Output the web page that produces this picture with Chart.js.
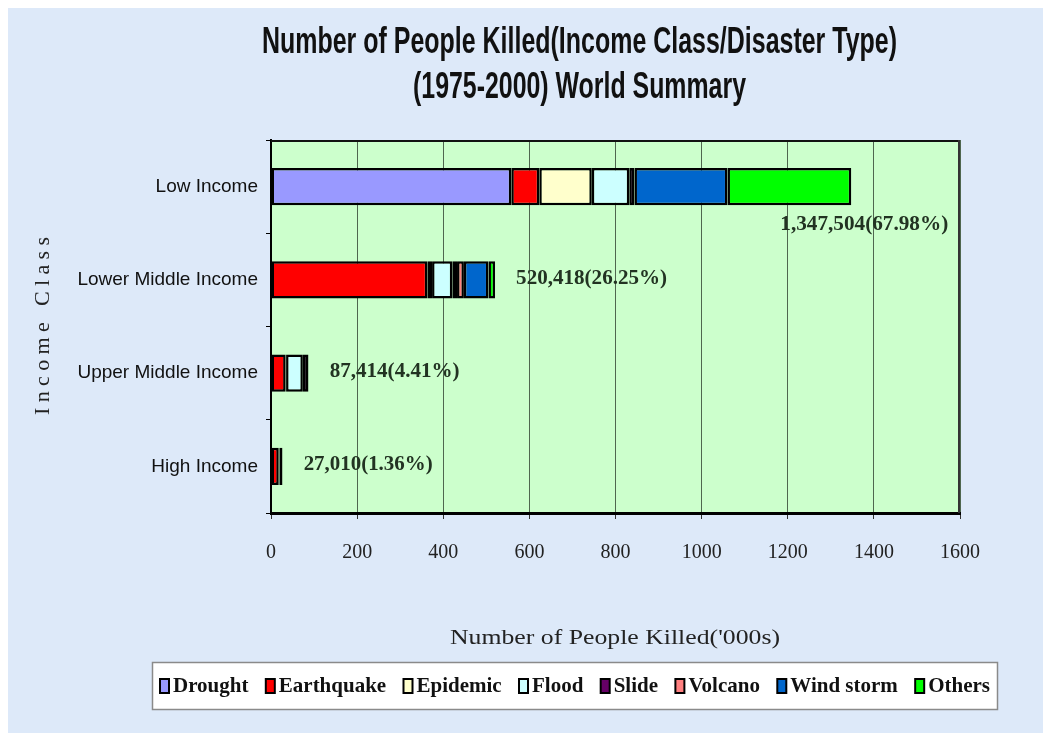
<!DOCTYPE html>
<html><head><meta charset="utf-8">
<script src="https://cdn.jsdelivr.net/npm/chart.js@4"></script>
<style>html,body{margin:0;padding:0;background:#fff}#wrap{width:1043px;height:736px;position:relative}canvas{display:block}</style>
</head><body><div id="wrap"><canvas id="c" width="1043" height="736"></canvas></div>
<script>
// ---- data ('000 people killed, 1975-2000) ----
const categories = ["Low Income", "Lower Middle Income", "Upper Middle Income", "High Income"];
const seriesNames = ["Drought", "Earthquake", "Epidemic", "Flood", "Slide", "Volcano", "Wind storm", "Others"];
const drought    = [558,   0,    0,   0];
const earthquake = [65,    363,  34,  18];
const epidemic   = [122,   11,   1,   0];
const flood      = [87,    47,   39,  2];
const slide      = [12,    11,   12,  6];
const volcano    = [0,     16,   0.4, 0];
const windStorm  = [216,   57,   1,   1];
const others     = [287.5, 15.4, 0,   0];
const totalLabels = ["1,347,504(67.98%)", "520,418(26.25%)", "87,414(4.41%)", "27,010(1.36%)"];
const xTickValues = [0, 200, 400, 600, 800, 1000, 1200, 1400, 1600];
const titleLines = ["Number of People Killed(Income Class/Disaster Type)", "(1975-2000) World Summary"];
const xTitle = "Number of People Killed('000s)";
const yTitle = "Income Class";

const seriesValues = [drought, earthquake, epidemic, flood, slide, volcano, windStorm, others];
const seriesColors = ["#9999ff", "#ff0000", "#ffffcc", "#ccffff", "#660066", "#ff8080", "#0066cc", "#00ff00"];

function fitText(ctx, text, x, y, width, font, align, color) {
  ctx.save();
  ctx.font = font; ctx.fillStyle = color || '#111';
  ctx.textBaseline = 'middle'; ctx.textAlign = 'left';
  const w = ctx.measureText(text).width;
  const s = width ? width / w : 1;
  const tw = w * s;
  const left = align === 'center' ? x - tw / 2 : (align === 'right' ? x - tw : x);
  ctx.translate(left, y); ctx.scale(s, 1);
  ctx.fillText(text, 0, 0);
  ctx.restore();
}

const decor = {
  id: 'decor',
  beforeDraw(chart) {
    const ctx = chart.ctx, a = chart.chartArea;
    ctx.save();
    ctx.fillStyle = '#ffffff'; ctx.fillRect(0, 0, chart.width, chart.height);
    ctx.fillStyle = '#dde9f9'; ctx.fillRect(8, 8, chart.width - 8, chart.height - 11);
    ctx.fillStyle = '#ccffcc'; ctx.fillRect(a.left, a.top, a.right - a.left, a.bottom - a.top);
    ctx.restore();
  },
  afterDatasetsDraw(chart) {
    const ctx = chart.ctx, a = chart.chartArea;
    const xs = chart.scales.x, ys = chart.scales.y;
    ctx.save();
    ctx.strokeStyle = '#111'; ctx.lineWidth = 2;
    ctx.beginPath(); ctx.moveTo(a.left, a.top + 1); ctx.lineTo(a.right, a.top + 1); ctx.stroke();
    ctx.strokeStyle = '#333';
    ctx.beginPath(); ctx.moveTo(a.right - 1, a.top); ctx.lineTo(a.right - 1, a.bottom); ctx.stroke();
    ctx.restore();
    // total labels
    const valueFont = 'bold 22px "Liberation Serif", "DejaVu Serif", serif';
    const widths = [168, 151, 130, 129];
    categories.forEach((c, i) => {
      let total = 0; seriesValues.forEach(s => total += s[i]);
      const xe = xs.getPixelForValue(total), yc = ys.getPixelForValue(i);
      if (i === 0) fitText(ctx, totalLabels[i], xe - 71, yc + 38, widths[i], valueFont, 'left', '#223322');
      else fitText(ctx, totalLabels[i], xe + 21, yc - 2, widths[i], valueFont, 'left', '#223322');
    });
  },
  afterDraw(chart) {
    const ctx = chart.ctx;
    const tf = 'bold 36px "Liberation Sans", Arial, sans-serif';
    fitText(ctx, titleLines[0], 579.5, 43, 635, tf, 'center', '#111');
    fitText(ctx, titleLines[1], 579.5, 88, 333, tf, 'center', '#111');
    // x title
    fitText(ctx, xTitle, 615, 638, 330, '22px "Liberation Serif", "DejaVu Serif", serif', 'center', '#222');
    // y title (rotated, letter spaced)
    ctx.save();
    ctx.translate(43, 326); ctx.rotate(-Math.PI / 2);
    ctx.font = '22px "Liberation Serif", "DejaVu Serif", serif';
    ctx.fillStyle = '#222'; ctx.textBaseline = 'middle'; ctx.textAlign = 'left';
    const chars = yTitle.split('');
    const cw = chars.map(ch => ctx.measureText(ch).width);
    const nat = cw.reduce((p, q) => p + q, 0);
    const sp = (178 - nat) / (chars.length - 1);
    let cx = -89;
    chars.forEach((ch, k) => { ctx.fillText(ch, cx, 0); cx += cw[k] + sp; });
    ctx.restore();
    // legend
    ctx.save();
    ctx.fillStyle = '#ffffff'; ctx.fillRect(152, 662, 846, 48);
    ctx.strokeStyle = '#8a8a8a'; ctx.lineWidth = 1.5; ctx.strokeRect(152.5, 662.5, 845, 47);
    const lf = 'bold 21px "Liberation Serif", "DejaVu Serif", serif';
    ctx.font = lf;
    const tws = seriesNames.map(n => ctx.measureText(n).width);
    const boxW = 11, boxGap = 3;
    const textTotal = tws.reduce((p, q) => p + q, 0);
    const gap = (831 - textTotal - seriesNames.length * (boxW + boxGap)) / (seriesNames.length - 1);
    let lx = 159; const ly = 686;
    seriesNames.forEach((n, k) => {
      ctx.fillStyle = '#000'; ctx.fillRect(lx, ly - 8, boxW, 16);
      ctx.fillStyle = seriesColors[k]; ctx.fillRect(lx + 2, ly - 6, boxW - 4, 12);
      lx += boxW + boxGap;
      ctx.fillStyle = '#111'; ctx.textBaseline = 'middle'; ctx.textAlign = 'left';
      ctx.fillText(n, lx, ly + 1);
      lx += tws[k] + gap;
    });
    ctx.restore();
  }
};

const datasets = seriesNames.map((n, k) => ({
  label: n,
  data: seriesValues[k].map(v => v === 0 ? null : v),
  backgroundColor: seriesColors[k],
  borderColor: '#000',
  borderWidth: 2.5,
  borderSkipped: false,
  barPercentage: 0.4,
  categoryPercentage: 1.0
}));

new Chart(document.getElementById('c'), {
  type: 'bar',
  data: { labels: categories, datasets },
  options: {
    indexAxis: 'y',
    responsive: false,
    animation: false,
    devicePixelRatio: 1,
    layout: { padding: { left: 30, right: 83, top: 140, bottom: 163 } },
    plugins: { legend: { display: false }, title: { display: false }, tooltip: { enabled: false } },
    scales: {
      x: {
        stacked: true, min: 0, max: 1600,
        afterBuildTicks(s) { s.ticks = xTickValues.map(v => ({ value: v })); },
        ticks: { color: '#222', padding: 22, font: { family: '"Liberation Serif", serif', size: 20 },
                 callback: v => String(v) },
        grid: { color: '#4f664f', lineWidth: 1, tickColor: '#333', tickLength: 6 },
        border: { color: '#000', width: 3 },
        afterFit(s) { s.height = 60; }
      },
      y: {
        stacked: true,
        ticks: { color: '#111', padding: 8, font: { family: '"Liberation Sans", Arial, sans-serif', size: 19 } },
        grid: { drawOnChartArea: false, color: '#000', tickLength: 5, offset: true },
        border: { color: '#000', width: 2 },
        afterFit(s) { s.width = 241; }
      }
    }
  },
  plugins: [decor]
});
</script>
</body></html>
